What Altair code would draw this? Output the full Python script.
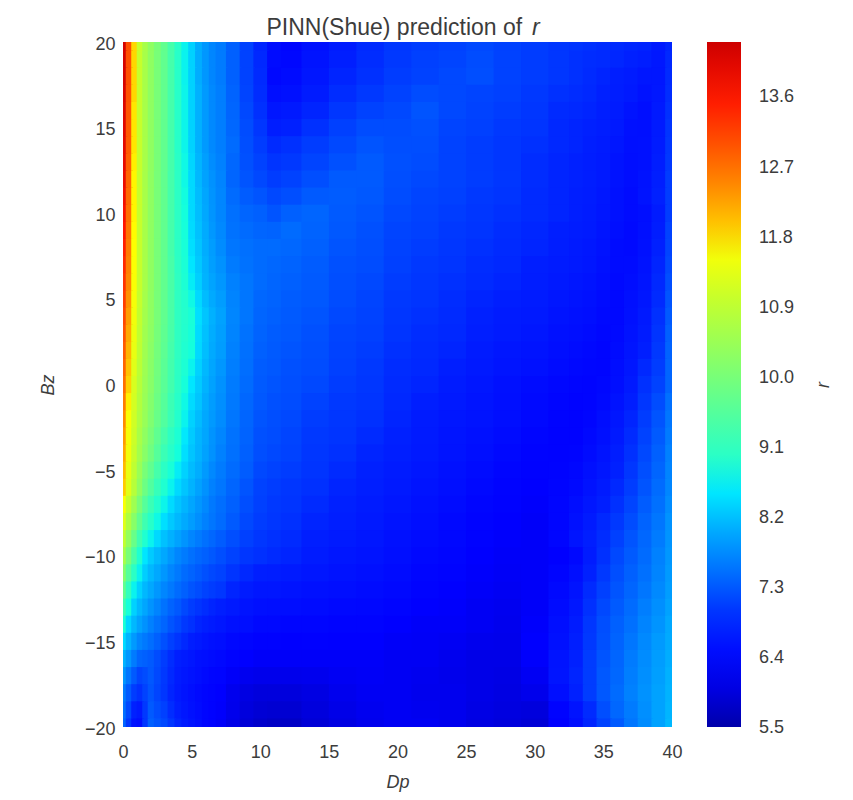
import altair as alt
import pandas as pd

dp_values = [0,0.4,0.8,1.2,1.6,2,2.5,3,3.5,4,4.5,5,5.5,6,6.5,7,8,9,10,11,12,14,16,18,20,22,24,26,28,30,32,33,34,35,36,37,38,39,40]
bz_values = list(range(20, -21, -1))

r_rows = [
[14.2,13.0,11.8,11.0,10.6,10.3,10.0,9.7,9.35,8.95,8.6,8.35,8.05,7.85,7.7,7.6,7.35,7.1,6.85,6.5,6.35,6.55,6.75,6.9,7.0,7.05,7.1,7.15,7.1,7.05,7.0,6.98,6.95,6.92,6.9,6.87,6.85,6.7,6.85],
[14.2,13.0,11.8,11.0,10.6,10.3,10.0,9.7,9.35,8.95,8.6,8.35,8.05,7.85,7.7,7.6,7.35,7.1,6.88,6.45,6.38,6.6,6.8,6.92,7.02,7.08,7.12,7.18,7.1,7.05,7.0,6.95,6.92,6.9,6.87,6.82,6.78,6.68,6.88],
[14.2,13.0,11.8,11.0,10.6,10.3,10.0,9.7,9.35,8.95,8.6,8.35,8.05,7.85,7.7,7.6,7.35,7.1,6.9,6.4,6.45,6.65,6.85,6.95,7.05,7.1,7.15,7.2,7.1,7.05,7.0,6.95,6.9,6.85,6.8,6.75,6.65,6.65,6.9],
[14.15,12.98,11.8,11.0,10.6,10.3,10.0,9.7,9.35,8.95,8.62,8.35,8.08,7.88,7.72,7.62,7.38,7.12,6.92,6.5,6.55,6.75,6.92,7.02,7.1,7.18,7.15,7.12,7.08,7.02,6.95,6.92,6.88,6.82,6.78,6.7,6.58,6.68,6.92],
[14.1,12.95,11.75,11.0,10.6,10.3,10.0,9.7,9.35,8.95,8.62,8.35,8.08,7.88,7.72,7.62,7.4,7.15,6.95,6.65,6.7,6.85,7.0,7.1,7.15,7.25,7.15,7.1,7.05,7.0,6.9,6.88,6.85,6.8,6.75,6.6,6.5,6.7,6.95],
[14.05,12.92,11.75,11.0,10.6,10.3,10.0,9.7,9.35,8.95,8.62,8.35,8.08,7.88,7.72,7.62,7.42,7.18,7.0,6.78,6.82,6.95,7.08,7.18,7.18,7.22,7.12,7.08,7.02,6.98,6.88,6.85,6.82,6.78,6.7,6.55,6.52,6.72,6.98],
[14.0,12.9,11.75,11.0,10.6,10.3,10.0,9.7,9.35,8.95,8.62,8.35,8.08,7.88,7.72,7.62,7.45,7.2,7.05,6.9,6.95,7.05,7.15,7.25,7.2,7.2,7.1,7.05,7.0,6.95,6.88,6.85,6.8,6.75,6.65,6.52,6.55,6.75,7.0],
[13.95,12.85,11.72,11.0,10.6,10.3,10.0,9.7,9.35,8.98,8.65,8.38,8.12,7.92,7.76,7.65,7.42,7.22,7.1,6.98,7.02,7.12,7.22,7.3,7.22,7.18,7.1,7.05,7.0,6.92,6.86,6.82,6.78,6.72,6.6,6.5,6.55,6.78,7.02],
[13.9,12.8,11.7,11.0,10.6,10.3,10.0,9.7,9.35,9.0,8.65,8.4,8.15,7.95,7.8,7.68,7.4,7.25,7.15,7.05,7.1,7.2,7.3,7.3,7.2,7.15,7.1,7.05,7.0,6.92,6.85,6.82,6.78,6.7,6.58,6.48,6.58,6.8,7.05],
[13.8,12.75,11.7,11.0,10.6,10.3,10.0,9.7,9.35,9.0,8.68,8.4,8.18,7.98,7.82,7.7,7.45,7.32,7.25,7.15,7.2,7.3,7.32,7.28,7.18,7.12,7.08,7.02,6.98,6.9,6.85,6.8,6.76,6.68,6.55,6.46,6.6,6.82,7.05],
[13.7,12.7,11.7,11.0,10.6,10.3,10.0,9.7,9.35,9.0,8.7,8.4,8.2,8.0,7.83,7.7,7.5,7.4,7.35,7.25,7.35,7.4,7.3,7.25,7.15,7.1,7.05,7.0,6.95,6.9,6.85,6.8,6.75,6.65,6.55,6.45,6.5,6.75,7.05],
[13.6,12.65,11.68,11.0,10.6,10.3,10.0,9.7,9.35,9.0,8.72,8.42,8.22,8.03,7.86,7.72,7.52,7.45,7.4,7.38,7.45,7.38,7.28,7.22,7.12,7.08,7.02,6.98,6.92,6.87,6.8,6.76,6.72,6.62,6.5,6.42,6.52,6.78,7.1],
[13.5,12.6,11.65,11.0,10.6,10.3,10.0,9.7,9.35,9.0,8.75,8.45,8.25,8.05,7.9,7.75,7.55,7.5,7.45,7.45,7.42,7.35,7.25,7.2,7.1,7.05,7.0,6.95,6.9,6.85,6.78,6.72,6.68,6.58,6.45,6.42,6.55,6.82,7.12],
[13.4,12.55,11.62,11.0,10.6,10.3,10.0,9.7,9.38,9.02,8.78,8.5,8.28,8.08,7.92,7.8,7.6,7.52,7.45,7.42,7.38,7.32,7.22,7.18,7.08,7.02,6.98,6.92,6.88,6.8,6.75,6.7,6.65,6.55,6.45,6.45,6.58,6.85,7.15],
[13.3,12.5,11.6,11.0,10.6,10.3,10.0,9.7,9.4,9.05,8.8,8.55,8.33,8.1,7.97,7.85,7.65,7.55,7.45,7.4,7.35,7.3,7.2,7.15,7.05,7.0,6.95,6.9,6.85,6.78,6.7,6.65,6.6,6.5,6.42,6.48,6.62,6.88,7.2],
[13.2,12.4,11.55,10.98,10.58,10.3,10.0,9.7,9.4,9.05,8.88,8.65,8.4,8.18,8.02,7.9,7.68,7.55,7.42,7.38,7.32,7.28,7.18,7.12,7.02,6.98,6.92,6.85,6.8,6.75,6.65,6.6,6.55,6.45,6.4,6.52,6.65,6.9,7.25],
[13.1,12.3,11.5,10.95,10.55,10.3,10.0,9.7,9.4,9.05,8.9,8.75,8.45,8.25,8.08,7.95,7.7,7.55,7.4,7.35,7.3,7.25,7.15,7.1,7.0,6.95,6.9,6.82,6.75,6.7,6.6,6.55,6.5,6.42,6.4,6.55,6.7,6.95,7.3],
[13.0,12.2,11.45,10.92,10.52,10.28,9.98,9.68,9.38,9.05,8.88,8.72,8.42,8.22,8.05,7.92,7.68,7.52,7.38,7.32,7.28,7.22,7.12,7.08,6.98,6.92,6.88,6.8,6.72,6.65,6.55,6.5,6.45,6.38,6.42,6.58,6.75,6.98,7.35],
[12.9,12.1,11.4,10.9,10.5,10.25,9.95,9.65,9.35,9.05,8.85,8.7,8.4,8.2,8.02,7.9,7.65,7.5,7.35,7.3,7.25,7.2,7.1,7.05,6.95,6.9,6.85,6.75,6.65,6.6,6.5,6.45,6.4,6.35,6.45,6.62,6.8,7.02,7.38],
[12.8,11.98,11.3,10.85,10.48,10.22,9.92,9.62,9.32,9.02,8.8,8.6,8.35,8.15,7.98,7.85,7.62,7.48,7.32,7.28,7.22,7.18,7.08,7.02,6.92,6.88,6.8,6.7,6.62,6.55,6.45,6.4,6.36,6.35,6.48,6.66,6.88,7.05,7.4],
[12.7,11.85,11.2,10.8,10.45,10.2,9.9,9.6,9.3,9.0,8.72,8.5,8.3,8.1,7.95,7.8,7.6,7.45,7.3,7.25,7.2,7.15,7.05,7.0,6.9,6.85,6.75,6.65,6.55,6.45,6.38,6.35,6.32,6.38,6.5,6.7,6.95,7.1,7.4],
[12.58,11.72,11.15,10.75,10.42,10.15,9.85,9.55,9.22,8.95,8.65,8.42,8.25,8.05,7.9,7.78,7.58,7.42,7.28,7.22,7.18,7.1,7.02,6.98,6.88,6.8,6.7,6.62,6.52,6.42,6.34,6.3,6.32,6.42,6.58,6.78,7.0,7.18,7.5],
[12.45,11.6,11.1,10.7,10.4,10.1,9.8,9.5,9.2,8.9,8.6,8.35,8.18,8.0,7.88,7.75,7.55,7.4,7.25,7.2,7.15,7.05,7.0,6.95,6.85,6.75,6.65,6.6,6.5,6.4,6.3,6.28,6.35,6.48,6.65,6.85,7.05,7.25,7.55],
[12.32,11.55,11.05,10.62,10.3,10.0,9.68,9.35,9.05,8.8,8.52,8.3,8.12,7.98,7.82,7.7,7.52,7.38,7.22,7.18,7.12,7.02,6.98,6.9,6.82,6.72,6.62,6.55,6.45,6.35,6.28,6.28,6.4,6.52,6.7,6.9,7.1,7.3,7.6],
[12.2,11.5,11.0,10.55,10.2,9.9,9.55,9.2,8.95,8.7,8.45,8.25,8.1,7.95,7.8,7.65,7.5,7.35,7.2,7.15,7.1,7.0,6.95,6.85,6.8,6.7,6.6,6.5,6.4,6.3,6.28,6.32,6.45,6.6,6.78,6.95,7.15,7.35,7.65],
[12.05,11.4,10.9,10.42,10.0,9.7,9.35,9.0,8.75,8.55,8.35,8.18,8.05,7.88,7.72,7.6,7.45,7.32,7.15,7.1,7.05,6.98,6.9,6.82,6.75,6.65,6.55,6.45,6.35,6.28,6.3,6.38,6.52,6.65,6.82,7.0,7.2,7.4,7.68],
[11.9,11.3,10.8,10.3,9.85,9.5,9.15,8.85,8.6,8.4,8.25,8.1,7.95,7.8,7.65,7.55,7.4,7.25,7.1,7.05,7.0,6.95,6.85,6.8,6.7,6.6,6.5,6.4,6.3,6.25,6.32,6.42,6.58,6.72,6.88,7.05,7.25,7.45,7.7],
[11.6,11.0,10.5,10.0,9.55,9.2,8.88,8.62,8.42,8.25,8.12,7.98,7.85,7.72,7.58,7.48,7.35,7.2,7.08,7.02,6.98,6.9,6.82,6.75,6.65,6.55,6.45,6.35,6.28,6.22,6.35,6.48,6.65,6.8,6.95,7.12,7.32,7.5,7.75],
[11.3,10.7,10.2,9.7,9.25,8.95,8.65,8.45,8.28,8.15,8.02,7.9,7.78,7.65,7.55,7.45,7.3,7.15,7.05,7.0,6.95,6.85,6.8,6.7,6.6,6.5,6.4,6.3,6.25,6.2,6.35,6.55,6.72,6.88,7.02,7.18,7.38,7.55,7.8],
[10.95,10.35,9.8,9.25,8.85,8.6,8.4,8.22,8.08,7.95,7.82,7.7,7.6,7.5,7.42,7.32,7.2,7.08,7.0,6.95,6.9,6.8,6.72,6.65,6.55,6.45,6.38,6.28,6.22,6.2,6.35,6.62,6.8,6.92,7.08,7.25,7.42,7.6,7.82],
[10.6,10.0,9.4,8.85,8.5,8.3,8.15,8.0,7.85,7.7,7.6,7.5,7.42,7.35,7.28,7.2,7.1,7.0,6.95,6.9,6.85,6.75,6.65,6.6,6.5,6.4,6.35,6.25,6.2,6.2,6.25,6.4,6.75,6.95,7.15,7.3,7.45,7.65,7.85],
[10.15,9.55,9.0,8.6,8.32,8.15,8.0,7.85,7.7,7.58,7.45,7.38,7.3,7.22,7.15,7.1,6.98,6.88,6.8,6.78,6.72,6.65,6.58,6.52,6.45,6.35,6.3,6.22,6.18,6.2,6.32,6.5,6.82,7.02,7.2,7.35,7.5,7.68,7.88],
[9.7,9.1,8.6,8.35,8.15,8.0,7.85,7.7,7.58,7.45,7.35,7.25,7.18,7.1,7.05,7.0,6.85,6.75,6.65,6.65,6.6,6.55,6.5,6.45,6.4,6.3,6.25,6.2,6.15,6.2,6.4,6.6,6.9,7.08,7.25,7.4,7.55,7.72,7.9],
[9.25,8.72,8.35,8.15,7.98,7.82,7.68,7.52,7.38,7.28,7.15,7.05,6.98,6.92,6.85,6.8,6.7,6.6,6.52,6.5,6.48,6.45,6.4,6.38,6.32,6.25,6.22,6.15,6.12,6.2,6.45,6.68,6.95,7.15,7.3,7.45,7.62,7.78,7.95],
[8.8,8.4,8.15,7.95,7.8,7.65,7.52,7.4,7.25,7.15,7.02,6.95,6.85,6.8,6.72,6.65,6.55,6.5,6.4,6.4,6.35,6.35,6.3,6.3,6.25,6.2,6.2,6.15,6.1,6.22,6.5,6.75,7.0,7.2,7.35,7.5,7.68,7.82,8.0],
[8.42,8.12,7.88,7.68,7.58,7.48,7.35,7.22,7.08,6.98,6.88,6.78,6.7,6.62,6.55,6.5,6.4,6.35,6.28,6.28,6.25,6.26,6.25,6.25,6.2,6.18,6.15,6.1,6.08,6.25,6.55,6.8,7.02,7.22,7.38,7.55,7.72,7.88,8.02],
[8.1,7.85,7.6,7.4,7.35,7.3,7.18,7.05,6.92,6.8,6.72,6.65,6.55,6.5,6.45,6.4,6.3,6.25,6.2,6.2,6.2,6.2,6.2,6.2,6.15,6.15,6.1,6.05,6.05,6.22,6.6,6.82,7.05,7.25,7.4,7.6,7.75,7.9,8.05],
[7.85,7.55,7.3,7.12,7.18,7.28,7.15,7.02,6.88,6.75,6.65,6.58,6.5,6.42,6.35,6.32,6.2,6.12,6.08,6.08,6.08,6.1,6.15,6.18,6.15,6.12,6.08,6.05,6.02,6.15,6.62,6.85,7.05,7.28,7.42,7.62,7.78,7.92,8.08],
[7.6,7.3,7.05,6.95,7.1,7.25,7.12,7.0,6.85,6.7,6.6,6.5,6.42,6.35,6.3,6.25,6.1,6.0,5.95,5.95,5.95,6.0,6.1,6.15,6.15,6.1,6.1,6.05,6.0,6.08,6.5,6.82,7.05,7.28,7.45,7.65,7.8,7.95,8.1],
[7.5,7.15,6.82,6.7,7.02,7.3,7.18,7.08,6.92,6.78,6.65,6.55,6.45,6.35,6.28,6.22,6.08,5.95,5.88,5.85,5.85,5.95,6.05,6.12,6.15,6.12,6.1,6.02,5.98,5.95,6.3,6.6,6.9,7.2,7.42,7.6,7.78,7.95,8.12],
[7.4,7.0,6.6,6.5,7.0,7.35,7.25,7.15,7.0,6.85,6.72,6.6,6.48,6.35,6.28,6.2,6.05,5.9,5.8,5.75,5.75,5.9,6.0,6.1,6.15,6.15,6.1,6.0,5.95,5.9,6.25,6.5,6.85,7.1,7.3,7.55,7.75,7.95,8.15],
]
for _row in r_rows:
    assert len(_row) == len(dp_values), (len(_row), _row[:3])
assert len(r_rows) == len(bz_values)

color_levels = [5.5,6.25,6.8,7.3,8.2,8.5,8.7,9.1,10.0,10.9,11.67,11.8,12.7,13.6,14.3]
color_range = ["#0000aa","#0000ff","#001eff","#005aff","#00beff","#00e6ff","#14ffdc","#32ffbe","#78ff78","#beff32","#ffff00","#ffd700","#ff6e00","#ff1400","#cd0000"]
colorbar_ticks = [5.5,6.4,7.3,8.2,9.1,10.0,10.9,11.8,12.7,13.6]
x_ticks = [0,5,10,15,20,25,30,35,40]
y_ticks = [-20,-15,-10,-5,0,5,10,15,20]

def edges(vals):
    s = sorted(vals)
    lo, hi = {}, {}
    for i, v in enumerate(s):
        lo[v] = s[0] if i == 0 else (s[i-1] + v) / 2
        hi[v] = s[-1] if i == len(s)-1 else (s[i+1] + v) / 2
    return lo, hi

xlo, xhi = edges(dp_values)
ylo, yhi = edges(bz_values)
lap = 0.12  # each cell runs slightly under its right and lower neighbours, hiding seams
records = []
for bz, row in zip(bz_values, r_rows):
    for dp, r in zip(dp_values, row):
        records.append({"x0": xlo[dp], "x1": min(40, xhi[dp] + lap),
                        "y0": max(-20, ylo[bz] - lap), "y1": yhi[bz], "r": r})
df = pd.DataFrame(records)

font = "Liberation Sans"
ink = "#3c3c3c"
cscale = alt.Scale(domain=color_levels, range=color_range, interpolate="rgb", clamp=True)

cells = alt.Chart(df).mark_rect().encode(
    x=alt.X("x0:Q", scale=alt.Scale(domain=[0, 40], nice=False, zero=False),
            axis=alt.Axis(values=x_ticks, title="Dp", titleFontStyle="italic", titleFontWeight="normal",
                          grid=False, domain=False, ticks=False, labelPadding=16, titlePadding=12,
                          labelFontSize=18, titleFontSize=18, labelColor=ink, titleColor=ink,
                          labelFont=font, titleFont=font, labelFlush=False, labelOverlap=False)),
    x2="x1:Q",
    y=alt.Y("y0:Q", scale=alt.Scale(domain=[-20, 20], nice=False, zero=False),
            axis=alt.Axis(values=y_ticks, title="Bz", titleFontStyle="italic", titleFontWeight="normal",
                          grid=False, domain=False, ticks=False, labelPadding=8, titlePadding=27,
                          labelOffset=2,
                          labelFontSize=18, titleFontSize=18, labelColor=ink, titleColor=ink,
                          labelFont=font, titleFont=font, labelFlush=False, labelOverlap=False,
                          labelExpr="replace(datum.label, '-', '\u2212')")),
    y2="y1:Q",
    color=alt.Color("r:Q", scale=cscale,
                    legend=alt.Legend(type="gradient", orient="none", legendX=584, legendY=0, title=None,
                                      gradientLength=685, gradientThickness=34, gradientStrokeWidth=0,
                                      values=[5.5, 14.3], labelExpr="''", labelFontSize=1, labelOverlap=False)),
)

bar_labels = alt.Chart(pd.DataFrame({"v": colorbar_ticks})).mark_text(
    font=font, fontSize=18, color=ink, align="left", baseline="middle", dy=1
).encode(
    x=alt.value(636),
    y=alt.Y("v:Q", scale=alt.Scale(domain=[5.5, 14.3], nice=False, zero=False), axis=None),
    text=alt.Text("v:Q", format=".1f"),
)

title_r = alt.Chart(pd.DataFrame({"t": ["r"]})).mark_text(
    font=font, fontSize=23, fontStyle="italic", color=ink, align="left", baseline="alphabetic"
).encode(x=alt.value(409), y=alt.value(-7), text="t:N")

bar_title = alt.Chart(pd.DataFrame({"t": ["r"]})).mark_text(
    font=font, fontSize=18, fontStyle="italic", color=ink, align="center", baseline="middle", angle=270
).encode(x=alt.value(701), y=alt.value(343), text="t:N")

chart = alt.layer(cells, bar_labels, title_r, bar_title).resolve_scale(y="independent").properties(
    width=549, height=685,
    padding={"left": 115, "top": 34, "right": 173, "bottom": 65},
    autosize=alt.AutoSizeParams(type="none"),
    background="white",
    title=alt.TitleParams("PINN(Shue) prediction of", anchor="start", dx=227, dy=31, offset=8,
                          font=font, fontSize=23, fontWeight="normal", color=ink),
).configure_view(stroke=None)

chart.save("out.html", embed_options={"renderer": "svg", "actions": False})
